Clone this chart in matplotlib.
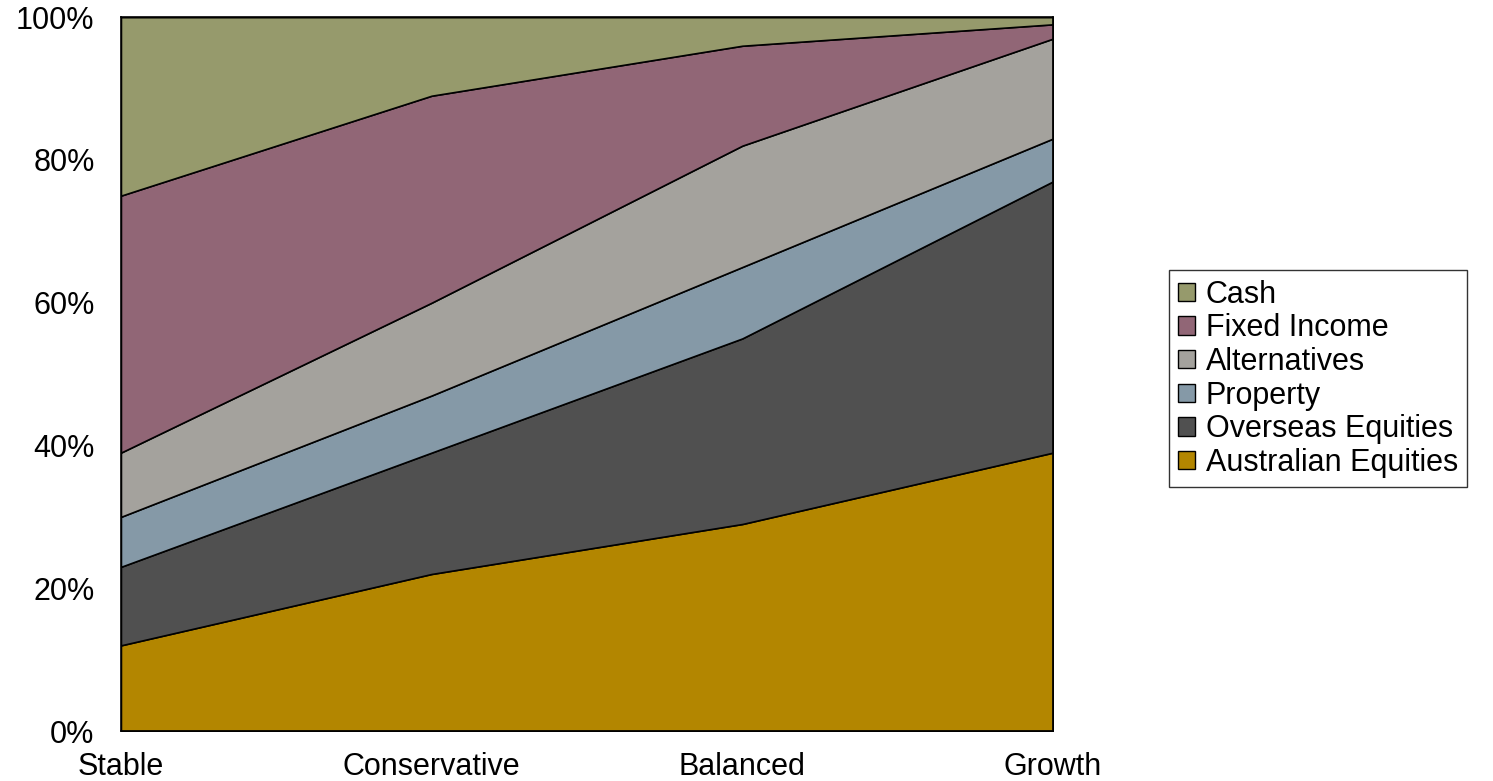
import matplotlib.pyplot as plt
from matplotlib.patches import Patch
import numpy as np

plt.rcParams['font.family'] = ['Liberation Sans', 'DejaVu Sans']

# allocation (%) per fund option
options = ['Stable', 'Conservative', 'Balanced', 'Growth']
australian_equities = [12, 22, 29, 39]
overseas_equities = [11, 17, 26, 38]
property_ = [7, 8, 10, 6]
alternatives = [9, 13, 17, 14]
fixed_income = [36, 29, 14, 2]
cash = [25, 11, 4, 1]

series = [
    ('Australian Equities', australian_equities, '#B38600'),
    ('Overseas Equities', overseas_equities, '#505050'),
    ('Property', property_, '#8599A7'),
    ('Alternatives', alternatives, '#A4A29D'),
    ('Fixed Income', fixed_income, '#916676'),
    ('Cash', cash, '#969A6C'),
]

fig = plt.figure(figsize=(14.93, 7.81), dpi=100)
ax = fig.add_axes([0.081, 0.064, 0.6243, 0.914])

x = np.arange(len(options))
ys = [np.array(v, dtype=float) for _, v, _ in series]
ax.stackplot(x, *ys, colors=[c for _, _, c in series],
             edgecolor='black', linewidth=1.2)

ax.set_xlim(0, len(options) - 1)
ax.set_ylim(0, 100)
ax.set_xticks(x)
ax.set_xticklabels(options)
ax.set_yticks(range(0, 101, 20))
ax.set_yticklabels([f'{v}%' for v in range(0, 101, 20)])
ax.tick_params(axis='both', length=0, labelsize=22)
ax.tick_params(axis='x', pad=15)
ax.tick_params(axis='y', pad=19)
for s in ax.spines.values():
    s.set_linewidth(1.2)
    s.set_color('black')

handles = [Patch(facecolor=c, edgecolor='black', linewidth=1.0, label=n)
           for n, _, c in reversed(series)]
leg = fig.legend(handles=handles, loc='center left',
                 bbox_to_anchor=(0.783, 0.515), fontsize=22,
                 frameon=True, fancybox=False, edgecolor='black',
                 handlelength=0.55, handleheight=0.55, handletextpad=0.35,
                 labelspacing=0.12, borderpad=0.3, borderaxespad=0)
leg.get_frame().set_linewidth(1.0)

fig.savefig('out.png', dpi=100)
